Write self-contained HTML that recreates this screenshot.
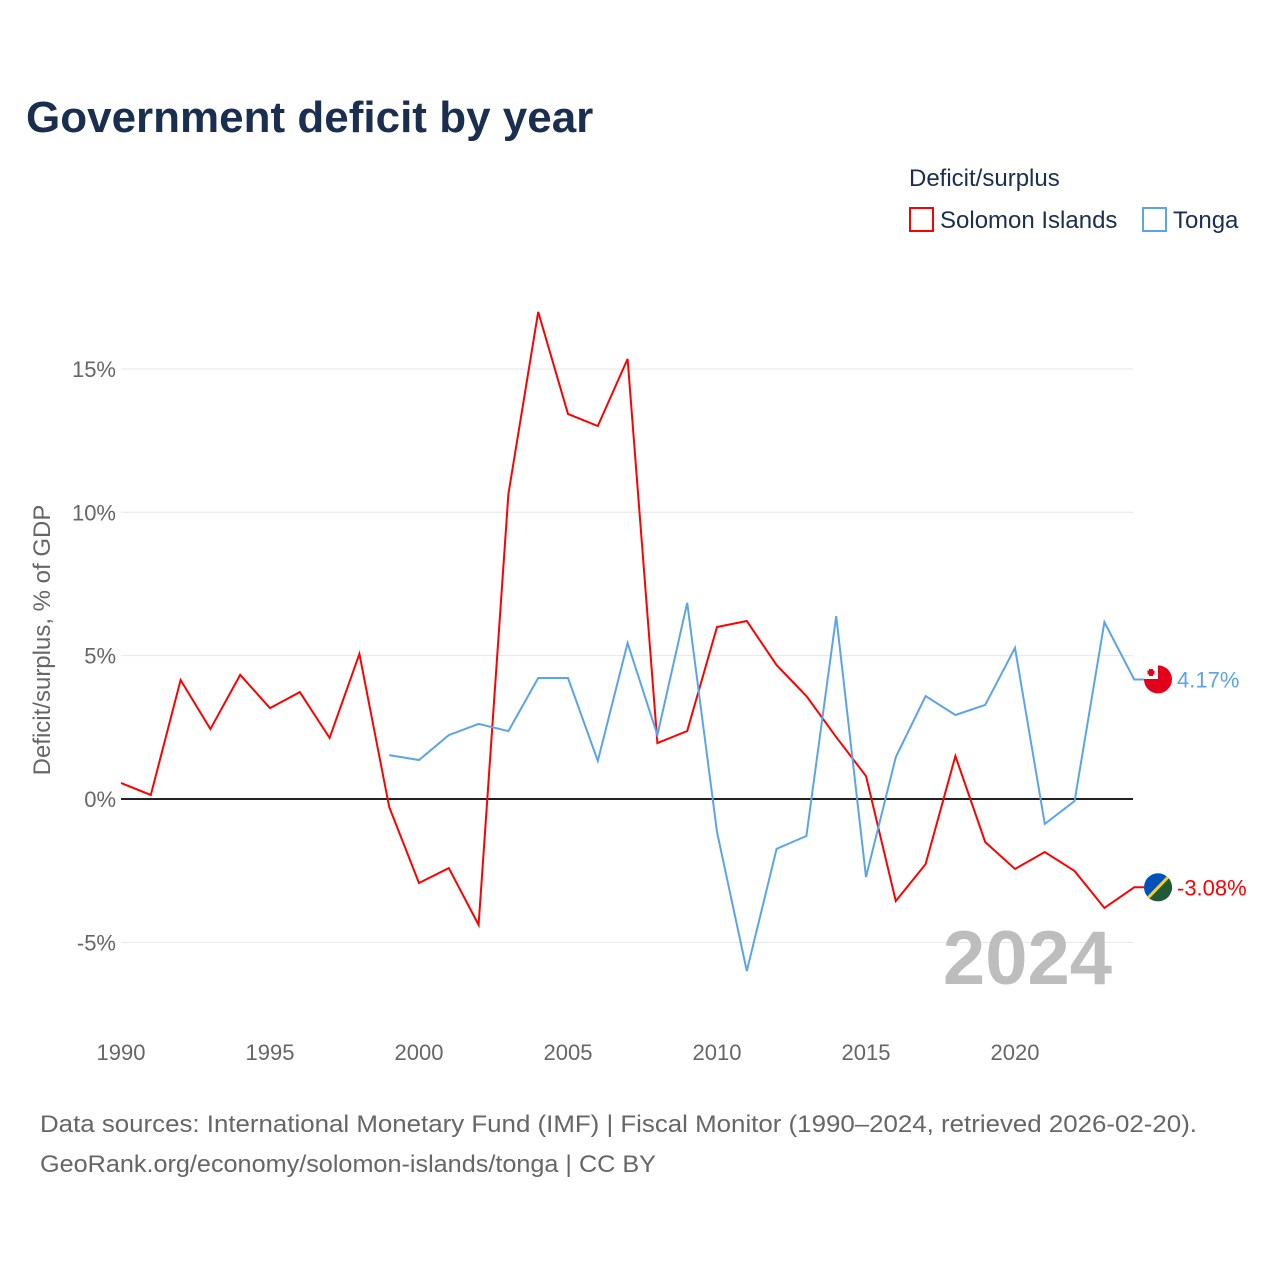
<!DOCTYPE html>
<html><head><meta charset="utf-8">
<style>
body{margin:0;background:#fff;font-family:"Liberation Sans",sans-serif;}
svg text{font-family:"Liberation Sans",sans-serif;}
</style></head>
<body>
<svg id="chart" width="1280" height="1280" viewBox="0 0 1280 1280" xmlns="http://www.w3.org/2000/svg">
<defs>
<clipPath id="cT"><circle cx="1158" cy="679.4" r="14"/></clipPath>
<clipPath id="cS"><circle cx="1158" cy="887.3" r="14"/></clipPath>
</defs>
<text x="26" y="132" font-size="44" font-weight="bold" fill="#1a2e4f">Government deficit by year</text>
<text x="909" y="186" font-size="24" fill="#1a2e4f">Deficit/surplus</text>
<g>
<rect x="910" y="208" width="23" height="23" fill="none" stroke="#ff0000" stroke-width="2"/>
<text x="940" y="228" font-size="24" fill="#1a2e4f">Solomon Islands</text></g>
<g>
<rect x="1143" y="208" width="23" height="23" fill="none" stroke="#5ba4ea" stroke-width="2"/>
<text x="1173" y="228" font-size="24" fill="#1a2e4f">Tonga</text></g>
<text transform="translate(50,640) rotate(-90)" text-anchor="middle" font-size="24" fill="#666">Deficit/surplus, % of GDP</text>
<g id="grid"></g><g id="xt"></g><g id="series"></g>
<text x="1112" y="984" text-anchor="end" font-size="76" font-weight="bold" fill="#bdbdbd">2024</text>
<text x="40" y="1132" font-size="24" fill="#666" textLength="1157" lengthAdjust="spacingAndGlyphs">Data sources: International Monetary Fund (IMF) | Fiscal Monitor (1990–2024, retrieved 2026-02-20).</text>
<text x="40" y="1172" font-size="24" fill="#666" textLength="616" lengthAdjust="spacingAndGlyphs">GeoRank.org/economy/solomon-islands/tonga | CC BY</text>
<g clip-path="url(#cT)">
<rect x="1144" y="665" width="28" height="29" fill="#e3001b"/>
<rect x="1144" y="665" width="14" height="14" fill="#fff"/>
<rect x="1149" y="669" width="4" height="7" fill="#e3001b"/>
<rect x="1147.5" y="670.5" width="7" height="4" fill="#e3001b"/>
</g>
<g clip-path="url(#cS)">
<rect x="1144" y="873" width="28" height="29" fill="#0051ba"/>
<polygon points="1172,873 1172,902 1144,902" fill="#215b33"/>
<line x1="1144" y1="902" x2="1172" y2="873" stroke="#fcd116" stroke-width="3"/>
</g>
</svg>
<script>
const years=[];for(let y=1990;y<=2024;y++)years.push(y);
const solomon=[0.56,0.14,4.15,2.44,4.33,3.17,3.73,2.13,5.06,-0.28,-2.93,-2.41,-4.39,10.64,16.99,13.43,13.01,15.35,1.95,2.37,6.0,6.21,4.67,3.59,2.16,0.80,-3.56,-2.27,1.50,-1.50,-2.44,-1.85,-2.51,-3.80,-3.08];
const tonga=[null,null,null,null,null,null,null,null,null,1.53,1.36,2.23,2.62,2.37,4.22,4.22,1.33,5.44,2.23,6.84,-1.15,-6.0,-1.74,-1.29,6.38,-2.72,1.46,3.59,2.93,3.28,5.27,-0.87,-0.07,6.17,4.17];
const yTicks=[-5,0,5,10,15];
const xTicks=[1990,1995,2000,2005,2010,2015,2020];
const X=y=>121+(y-1990)*29.8;
const Y=v=>799-v*28.67;
const NS="http://www.w3.org/2000/svg";
function mk(t,a,p){const e=document.createElementNS(NS,t);for(const k in a)e.setAttribute(k,a[k]);p.appendChild(e);return e;}
const g=document.getElementById('grid');
yTicks.forEach(v=>{
 const l=mk('line',{x1:121,x2:1133,y1:Y(v),y2:Y(v),stroke:v===0?'#222':'#e6e6e6','stroke-width':v===0?2:1},g);
 
 
 const t=mk('text',{x:116,y:Y(v)+8,'text-anchor':'end','font-size':22,fill:'#666'},g);
 t.textContent=v+'%';
 
 
});
const xt=document.getElementById('xt');
xTicks.forEach(v=>{
 const t=mk('text',{x:X(v),y:1060,'text-anchor':'middle','font-size':22,fill:'#666'},xt);
 t.textContent=v;
 
 
});
const s=document.getElementById('series');
function line(data,color,name){
 let d='';data.forEach((v,i)=>{if(v===null)return;d+=(d?'L':'M')+X(years[i])+','+Y(v);});
 d+='L1144,'+Y(data[data.length-1]);
 const p=mk('path',{d:d,fill:'none',stroke:color,'stroke-width':2},s);
 
 
 const last=data[data.length-1];
 const t=mk('text',{x:1177,y:Y(last)+8,'font-size':22,fill:color},s);
 t.textContent=last.toFixed(2)+'%';
 
 
}
line(solomon,'#ff0000','solomon-islands');
line(tonga,'#5ba4ea','tonga');
</script>
</body></html>
